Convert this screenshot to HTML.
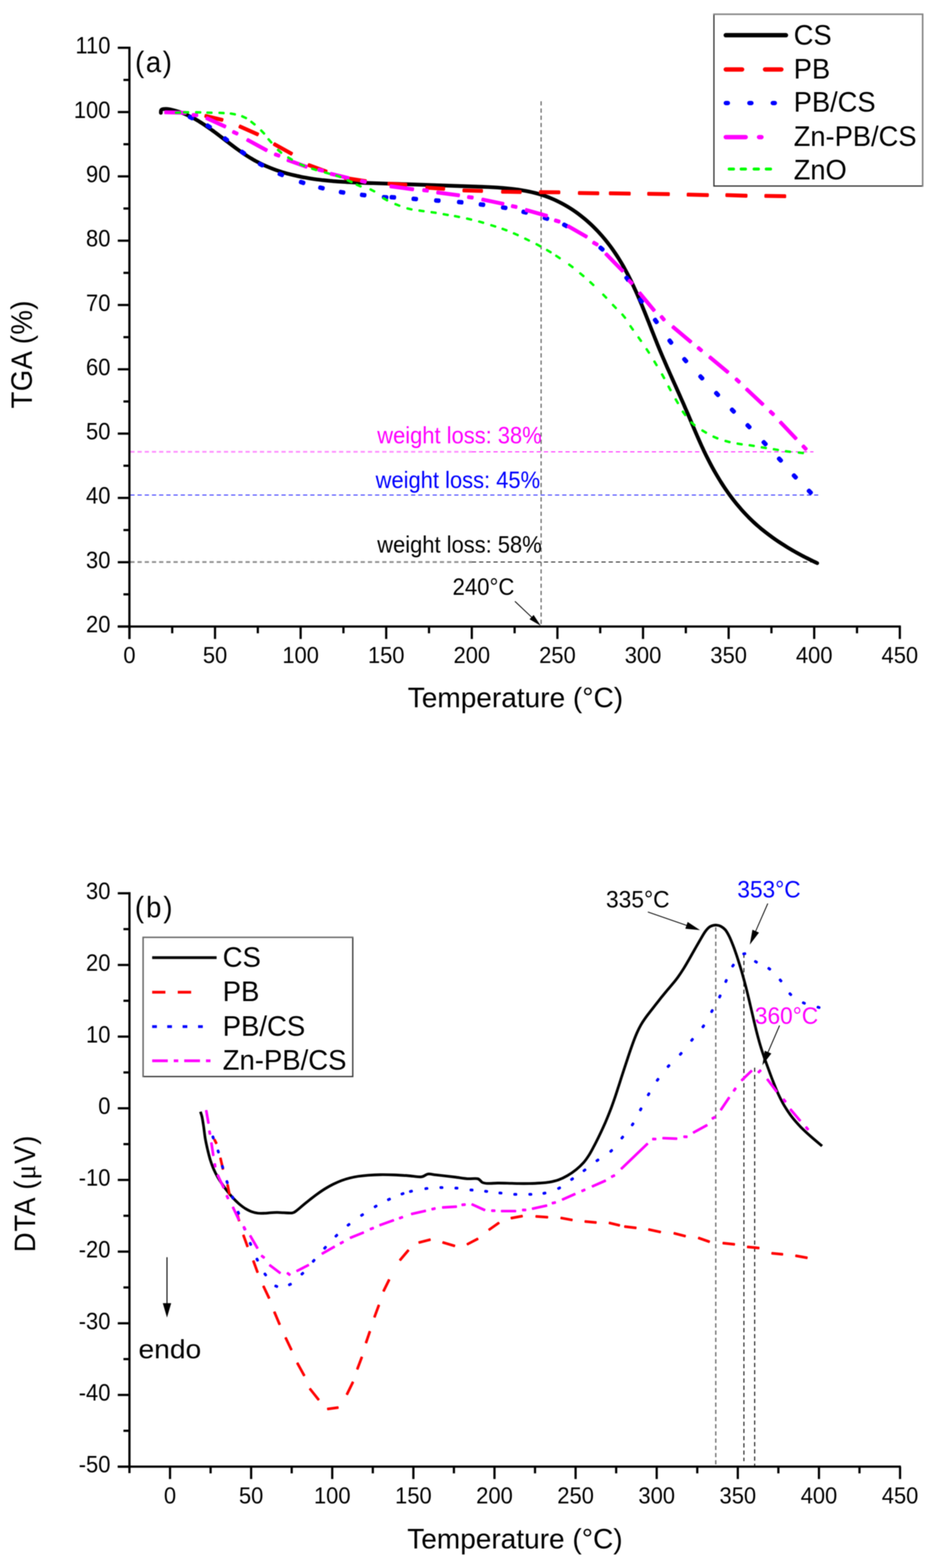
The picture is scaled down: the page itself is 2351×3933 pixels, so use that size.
<!DOCTYPE html>
<html lang="en">
<head>
<meta charset="utf-8">
<title>TGA and DTA curves</title>
<style>
html,body{margin:0;padding:0;background:#fff}
svg{display:block;font-family:"Liberation Sans", Arial, Helvetica, sans-serif;filter:blur(0.9px)}
</style>
</head>
<body>
<svg width="2351" height="3933" viewBox="0 0 2351 3933">
<rect width="2351" height="3933" fill="#fff"/>
<g id="chart-a">
<line x1="1357.7" y1="254" x2="1357.7" y2="1569" stroke="#666" stroke-width="3" stroke-dasharray="10.6 7.46"/>
<line x1="327" y1="1133.2" x2="1184" y2="1133.2" stroke="#ff90ff" stroke-width="4.6" stroke-dasharray="10.6 7.46"/>
<line x1="1184" y1="1133.2" x2="2041" y2="1133.2" stroke="#ff28ff" stroke-width="2.6" stroke-dasharray="10.6 7.46"/>
<line x1="327" y1="1241.7" x2="2053" y2="1241.7" stroke="#3838ff" stroke-width="2.6" stroke-dasharray="10.6 7.46"/>
<line x1="327" y1="1409.8" x2="1184" y2="1409.8" stroke="#909090" stroke-width="4.6" stroke-dasharray="10.6 7.46"/>
<line x1="1184" y1="1409.8" x2="2040" y2="1409.8" stroke="#2a2a2a" stroke-width="2.6" stroke-dasharray="10.6 7.46"/>
<path d="M403.6 283.1C403.7 282 403.2 278 404.3 276.4C405.3 274.8 407 274.2 409.6 273.7C412.3 273.2 416.3 273 420.4 273.4C424.6 273.9 430 275.1 434.7 276.3C439.3 277.4 443.9 278.8 448.5 280.3C453 281.8 457.5 283.4 461.9 285.2C466.3 287 470.7 289 475 291.1C479.3 293.2 483.6 295.4 487.8 297.7C492 300.1 496.2 302.5 500.3 305.1C504.5 307.6 508.6 310.2 512.7 313C516.8 315.7 520.8 318.5 524.8 321.3C528.9 324.1 532.9 327.1 536.9 330C540.9 332.9 544.8 335.9 548.8 338.9C552.8 341.9 556.7 345 560.7 348C564.6 351 568.6 354.1 572.6 357.1C576.5 360.1 580.5 363.2 584.5 366.1C588.5 369.1 592.4 372.1 596.5 375C600.5 377.9 604.5 380.7 608.6 383.5C612.6 386.3 616.7 389 620.8 391.6C624.9 394.2 629.1 396.8 633.3 399.2C637.4 401.7 641.7 404 645.9 406.2C650.2 408.5 654.5 410.6 658.8 412.7C663.2 414.7 667.5 416.6 672 418.5C676.4 420.4 680.8 422.1 685.3 423.8C689.7 425.5 694.2 427.1 698.8 428.6C703.3 430.1 707.9 431.6 712.4 432.9C717 434.3 721.6 435.6 726.3 436.8C730.9 438 735.6 439.1 740.3 440.2C744.9 441.3 749.7 442.3 754.4 443.3C759.1 444.2 763.9 445.1 768.6 445.9C773.4 446.8 778.2 447.5 783 448.3C787.8 449 792.6 449.7 797.4 450.3C802.2 450.9 807.1 451.5 811.9 452C816.8 452.6 821.7 453.1 826.5 453.5C831.4 454 836.3 454.4 841.2 454.8C846.1 455.2 851 455.5 855.9 455.8C860.8 456.2 865.7 456.4 870.6 456.7C875.5 457 880.5 457.2 885.4 457.5C890.3 457.7 895.2 457.9 900.1 458.1C905 458.3 910 458.5 914.9 458.7C919.8 458.8 924.7 459 929.6 459.2C934.5 459.3 939.4 459.5 944.3 459.6C949.2 459.8 954.1 459.9 958.9 460.1C963.8 460.3 968.7 460.4 973.6 460.6C978.4 460.7 983.3 460.9 988.1 461.1C993 461.2 997.8 461.4 1002.7 461.5C1007.5 461.7 1012.4 461.9 1017.2 462C1022.1 462.2 1026.9 462.3 1031.8 462.5C1036.6 462.7 1041.5 462.8 1046.3 463C1051.2 463.2 1056 463.3 1060.9 463.5C1065.7 463.7 1070.6 463.8 1075.4 464C1080.3 464.1 1085.1 464.3 1090 464.5C1094.9 464.6 1099.7 464.8 1104.6 465C1109.5 465.1 1114.4 465.3 1119.3 465.5C1124.2 465.6 1129.1 465.8 1134 466C1138.9 466.1 1143.9 466.3 1148.8 466.5C1153.7 466.6 1158.7 466.8 1163.6 467C1168.6 467.1 1173.6 467.3 1178.6 467.5C1183.6 467.6 1188.6 467.8 1193.6 468C1198.6 468.1 1203.6 468.3 1208.7 468.5C1213.7 468.7 1218.7 468.9 1223.8 469.1C1228.8 469.4 1233.8 469.6 1238.9 469.9C1243.9 470.2 1248.9 470.5 1253.9 470.9C1258.9 471.3 1263.9 471.7 1268.9 472.1C1273.9 472.6 1278.9 473.1 1283.8 473.6C1288.8 474.2 1293.7 474.8 1298.6 475.5C1303.5 476.2 1308.4 477 1313.2 477.9C1318.1 478.7 1322.9 479.6 1327.7 480.6C1332.4 481.6 1337.2 482.7 1341.9 483.9C1346.6 485.1 1351.2 486.4 1355.8 487.8C1360.4 489.2 1365 490.7 1369.5 492.3C1374 493.9 1378.4 495.6 1382.8 497.5C1387.2 499.3 1391.6 501.2 1395.9 503.2C1400.2 505.2 1404.4 507.4 1408.6 509.6C1412.8 511.8 1417 514.1 1421 516.5C1425.1 518.9 1429.2 521.4 1433.1 523.9C1437.1 526.5 1441 529.2 1444.9 531.9C1448.8 534.7 1452.6 537.5 1456.4 540.4C1460.1 543.3 1463.8 546.3 1467.5 549.4C1471.1 552.4 1474.7 555.6 1478.2 558.8C1481.8 562 1485.3 565.3 1488.7 568.6C1492.1 572 1495.5 575.4 1498.8 578.9C1502.1 582.4 1505.3 585.9 1508.5 589.5C1511.7 593.1 1514.8 596.8 1517.9 600.5C1521 604.3 1524 608 1526.9 611.9C1529.9 615.7 1532.8 619.6 1535.6 623.5C1538.4 627.5 1541.2 631.5 1543.9 635.5C1546.6 639.5 1549.3 643.6 1551.9 647.7C1554.5 651.8 1557 656 1559.5 660.2C1561.9 664.4 1564.4 668.6 1566.7 672.9C1569.1 677.2 1571.4 681.5 1573.7 685.8C1576 690.1 1578.2 694.5 1580.4 698.9C1582.6 703.3 1584.8 707.7 1586.9 712.2C1589 716.6 1591.1 721.1 1593.1 725.6C1595.2 730.1 1597.2 734.6 1599.2 739.1C1601.2 743.7 1603.2 748.2 1605.1 752.8C1607 757.4 1609 761.9 1610.9 766.5C1612.8 771.1 1614.6 775.7 1616.5 780.3C1618.4 784.9 1620.2 789.5 1622.1 794.2C1623.9 798.8 1625.7 803.4 1627.6 808C1629.4 812.6 1631.2 817.3 1633 821.9C1634.8 826.5 1636.6 831.1 1638.5 835.7C1640.3 840.3 1642.1 844.9 1643.9 849.5C1645.8 854.1 1647.6 858.7 1649.4 863.3C1651.3 867.8 1653.2 872.4 1655 876.9C1656.9 881.5 1658.8 886 1660.7 890.5C1662.6 895 1664.5 899.5 1666.5 903.9C1668.4 908.4 1670.3 912.9 1672.3 917.3C1674.2 921.8 1676.2 926.2 1678.2 930.7C1680.1 935.1 1682.1 939.5 1684.1 944C1686 948.4 1688 952.8 1690 957.2C1692 961.6 1694 966.1 1696 970.5C1697.9 974.9 1699.9 979.3 1701.9 983.7C1703.9 988.1 1705.9 992.5 1707.8 997C1709.8 1001.4 1711.7 1005.8 1713.7 1010.2C1715.7 1014.7 1717.6 1019.1 1719.5 1023.6C1721.5 1028 1723.4 1032.5 1725.3 1036.9C1727.2 1041.4 1729.1 1045.9 1731 1050.4C1732.9 1054.8 1734.8 1059.3 1736.7 1063.8C1738.6 1068.3 1740.5 1072.8 1742.4 1077.3C1744.3 1081.8 1746.2 1086.3 1748.2 1090.8C1750.1 1095.3 1752.1 1099.7 1754 1104.2C1756 1108.7 1758 1113.2 1760 1117.6C1762.1 1122.1 1764.1 1126.5 1766.2 1130.9C1768.3 1135.3 1770.4 1139.7 1772.6 1144.1C1774.8 1148.5 1777 1152.9 1779.2 1157.2C1781.5 1161.5 1783.8 1165.9 1786.1 1170.2C1788.4 1174.5 1790.8 1178.7 1793.2 1183C1795.6 1187.2 1798.1 1191.4 1800.6 1195.6C1803.1 1199.8 1805.6 1203.9 1808.2 1208.1C1810.8 1212.2 1813.4 1216.3 1816.1 1220.3C1818.8 1224.4 1821.5 1228.4 1824.3 1232.4C1827.1 1236.4 1830 1240.3 1832.8 1244.2C1835.7 1248.1 1838.7 1252 1841.7 1255.8C1844.7 1259.6 1847.7 1263.4 1850.8 1267.1C1853.9 1270.8 1857.1 1274.5 1860.3 1278.2C1863.5 1281.8 1866.8 1285.4 1870.1 1288.9C1873.4 1292.4 1876.8 1295.9 1880.2 1299.4C1883.7 1302.8 1887.2 1306.2 1890.7 1309.5C1894.3 1312.8 1897.9 1316.1 1901.6 1319.3C1905.3 1322.5 1909.1 1325.6 1912.8 1328.7C1916.6 1331.8 1920.5 1334.9 1924.4 1337.8C1928.3 1340.8 1932.2 1343.8 1936.2 1346.6C1940.2 1349.5 1944.2 1352.4 1948.3 1355.1C1952.3 1357.9 1956.5 1360.6 1960.6 1363.3C1964.7 1366 1968.9 1368.6 1973.1 1371.2C1977.3 1373.8 1981.5 1376.3 1985.7 1378.8C1990 1381.2 1994.2 1383.7 1998.5 1386.1C2002.8 1388.4 2007.1 1390.8 2011.4 1393.1C2015.7 1395.4 2020.1 1397.6 2024.4 1399.8C2028.7 1402 2033.1 1404.2 2037.4 1406.3C2041.7 1408.4 2048.2 1411.5 2050.4 1412.5" fill="none" stroke="#000" stroke-width="9.4" stroke-linecap="round" stroke-linejoin="round"/>
<path d="M515.5 292.6L557 302.5L557.9 298.8L516.4 288.9ZM601.2 318.9L645.6 338.7L647.2 335.2L602.8 315.4ZM687.6 363.3L730.4 387.1L732.2 383.8L689.5 360ZM774 415.9L817.6 431.8L818.9 428.2L775.3 412.4ZM865.4 448.3L917 456.2L917.5 452.4L866 444.5ZM975.2 462.5L1018.7 465.3L1018.9 461.5L975.4 458.7ZM1070.2 472.6L1113.7 475.4L1113.9 471.6L1070.4 468.8ZM1163.3 479.5L1208.8 480.7L1208.9 476.9L1163.4 475.7ZM1260.3 482.7L1305.8 483.5L1305.9 479.7L1260.4 478.9ZM1355.3 483.9L1402.9 484.3L1402.9 480.5L1355.4 480.1ZM1453 486L1500.5 486.8L1500.6 483L1453.1 482.2ZM1530.7 486.8L1579.4 487.6L1579.5 483.8L1530.7 483ZM1626.9 488L1677.6 488.8L1677.7 485L1626.9 484.2ZM1725.9 490.1L1775.5 491.2L1775.6 487.4L1726 486.3ZM1823 491.3L1872.5 492.9L1872.6 489.1L1823.1 487.5ZM1920.8 493.3L1969.6 494.1L1969.6 490.3L1920.9 489.5Z" fill="#f00" stroke="#f00" stroke-width="6" stroke-linejoin="round"/>
<path d="M475.1 294L482 297.5L483 295.3L476.2 291.9ZM519.6 315.9L526.2 320L527.4 317.9L520.9 313.9ZM563 347.9L569.1 352.6L570.6 350.7L564.5 346ZM605.8 381.6L612.1 386.1L613.5 384.1L607.2 379.6ZM651 411.9L657.7 415.7L658.9 413.6L652.2 409.8ZM700.7 437L707.7 440.1L708.7 437.9L701.6 434.8ZM754 457.6L761.3 460L762.1 457.7L754.8 455.3ZM802.5 471.6L810 473.5L810.6 471.1L803.1 469.3ZM854.3 482.8L861.9 484.1L862.3 481.8L854.7 480.5ZM907.3 489.9L915 490.8L915.2 488.4L907.6 487.5ZM962.3 495.7L970 496.3L970.2 493.9L962.5 493.3ZM981.8 495.9L989.5 496.4L989.6 494L981.9 493.5ZM1036.8 499.9L1044.5 500.5L1044.6 498.1L1036.9 497.5ZM1093.4 504L1101.1 504.5L1101.2 502.1L1093.6 501.6ZM1150.8 507.9L1158.4 508.6L1158.7 506.2L1151 505.6ZM1205.3 513.9L1213 514.8L1213.3 512.4L1205.6 511.5ZM1261.1 521.3L1268.7 522.7L1269.1 520.3L1261.5 519ZM1312.4 532.4L1319.9 534.3L1320.5 531.9L1313 530ZM1365.8 547.5L1373.1 549.9L1373.9 547.6L1366.5 545.2ZM1414.4 564.5L1421.1 568.2L1422.3 566.1L1415.5 562.4ZM1505.5 622L1511.3 627L1512.9 625.2L1507 620.2ZM1570.6 696.9L1575.2 703L1577.1 701.5L1572.5 695.4ZM1605.1 751.3L1609.4 757.6L1611.4 756.3L1607.1 749.9ZM1642.3 802.6L1646.8 808.9L1648.8 807.5L1644.3 801.2ZM1678.7 854.5L1683.3 860.6L1685.2 859.2L1680.6 853ZM1715.7 901.2L1720.8 907L1722.6 905.4L1717.5 899.6ZM1756.1 944.6L1761.3 950.2L1763.1 948.6L1757.8 943ZM1795.7 986.3L1801 991.8L1802.7 990.2L1797.4 984.6ZM1835.3 1027.9L1840.6 1033.5L1842.4 1031.8L1837 1026.3ZM1874.5 1067.2L1879.9 1072.7L1881.6 1071L1876.2 1065.5ZM1915 1109.6L1920.2 1115.2L1922 1113.5L1916.7 1107.9ZM1953.4 1150.7L1958.6 1156.4L1960.4 1154.8L1955.2 1149.1ZM1990.7 1193L1996 1198.7L1997.7 1197L1992.5 1191.4ZM2028.3 1231.5L2033.6 1237L2035.4 1235.3L2030 1229.8Z" fill="#00f" stroke="#00f" stroke-width="8.8" stroke-linejoin="round"/>
<path d="M415 283.6L465.4 284.9L465.5 281.1L415.1 279.8ZM518.2 298.2L563.6 318.9L565.2 315.4L519.8 294.8ZM620.4 352.7L667.4 378.3L669.2 374.9L622.3 349.4ZM721.8 403.5L768 420L769.3 416.4L723 399.9ZM829.9 437.9L873.3 448.3L874.2 444.6L830.8 434.2ZM980.1 469.3L1035.7 476.7L1036.2 472.9L980.6 465.5ZM1097.4 484.7L1150.9 491.7L1151.4 487.9L1097.9 480.9ZM1210.4 502.4L1262 513.1L1262.7 509.4L1211.2 498.7ZM1319.5 528.6L1371 543L1372 539.4L1320.5 524.9ZM1424.9 569.2L1470.2 595.2L1472.1 591.9L1426.8 565.9ZM1519.6 638.7L1560.7 680.7L1563.4 678L1522.3 636.1ZM1603.6 736.4L1639.4 779.6L1642.4 777.2L1606.5 734ZM1687.6 821.6L1731.6 858.6L1734.1 855.7L1690.1 818.7ZM1780.2 897.6L1824.6 934.6L1827.1 931.7L1782.6 894.7ZM1872.3 977.9L1912.3 1015.4L1914.9 1012.7L1874.9 975.2ZM1957.2 1060.7L1995.5 1101.1L1998.2 1098.5L1959.9 1058.1Z" fill="#f0f" stroke="#f0f" stroke-width="6" stroke-linejoin="round"/>
<path d="M484.7 289.7L493.6 289.9L493.6 287.5L484.7 287.3ZM585.7 332.4L593.8 336L594.8 333.9L586.7 330.2ZM690.8 388.5L699.2 391.5L700 389.3L691.6 386.3ZM799.9 427L808.6 429.1L809.1 426.8L800.5 424.7ZM907.1 455.3L915.7 457.4L916.3 455.1L907.6 453ZM1063.2 478.2L1072 479.3L1072.4 477L1063.5 475.8ZM1175.6 495.6L1184.4 496.7L1184.8 494.3L1175.9 493.2ZM1285.6 518.3L1294.3 520.1L1294.8 517.7L1286.1 515.9ZM1393.5 554.4L1402.1 556.8L1402.7 554.4L1394.2 552ZM1489.3 609.9L1497.1 614.3L1498.3 612.2L1490.5 607.8ZM1578 704.9L1584.2 711.3L1585.9 709.6L1579.7 703.3ZM1659 795.6L1664.7 802.4L1666.6 800.9L1660.9 794.1ZM1751.8 873.9L1758.6 879.6L1760.1 877.8L1753.3 872ZM1846.9 952.5L1853.4 958.6L1855 956.8L1848.5 950.7ZM1932.6 1033.8L1939.1 1039.9L1940.7 1038.1L1934.2 1032ZM2014.8 1120.5L2020.9 1126.9L2022.7 1125.3L2016.5 1118.8Z" fill="#f0f" stroke="#f0f" stroke-width="7.6" stroke-linejoin="round"/>
<path d="M441.1 283.4L452.3 283L452.3 281.7L441.1 282.1ZM461.3 282.5L472.5 282.3L472.5 281L461.3 281.2ZM491.6 282.3L502.8 282.5L502.9 281.2L491.7 281ZM519.9 283.1L531.1 283.4L531.2 282.1L520 281.8ZM550.3 283.7L561.4 284.3L561.5 283L550.3 282.4ZM578.6 285.4L589.6 287.5L589.8 286.2L578.8 284.1ZM607.1 292.2L617.3 296.8L617.8 295.6L607.7 291ZM629.9 305.9L638.7 312.8L639.5 311.8L630.8 304.8ZM654.6 327.5L662.4 335.6L663.3 334.7L655.6 326.6ZM673 349.5L680.4 358L681.4 357.1L674 348.7ZM696.8 376.4L705.2 383.8L706.1 382.8L697.7 375.4ZM722.6 395.4L732.2 401.3L732.8 400.1L723.3 394.3ZM752.7 412.3L762.9 416.8L763.4 415.7L753.2 411.1ZM782.8 423.8L793.5 427.2L793.9 426L783.2 422.5ZM815.1 433.3L825.9 436.3L826.3 435.1L815.5 432ZM843.5 441L854.1 444.8L854.5 443.5L844 439.8ZM871.9 452.7L882.1 457.3L882.7 456.1L872.5 451.5ZM894.6 463.9L904.9 468.2L905.4 467L895.1 462.7ZM929.1 475.6L939 480.7L939.6 479.6L929.7 474.4ZM961.5 497.6L971.2 503.2L971.9 502.1L962.2 496.4ZM991.6 512.5L1002 516.6L1002.5 515.4L992.1 511.3ZM1021.8 523.4L1032.6 526L1033 524.8L1022.1 522.1ZM1052 528.8L1063.1 530.4L1063.3 529.1L1052.2 527.5ZM1082.4 532.8L1093.4 534.5L1093.6 533.2L1082.6 531.5ZM1112.7 537.9L1123.7 539.8L1124 538.5L1112.9 536.6ZM1141 542.7L1152 544.8L1152.3 543.5L1141.3 541.4ZM1171.4 548.9L1182.3 551.5L1182.6 550.2L1171.7 547.6ZM1201.7 556.3L1212.5 559.4L1212.8 558.1L1202.1 555.1ZM1232.1 565.5L1242.7 568.8L1243.1 567.6L1232.5 564.2ZM1260.4 574.5L1270.9 578.4L1271.4 577.2L1260.9 573.3ZM1288.8 585.9L1299.1 590.4L1299.6 589.2L1289.4 584.7ZM1317.2 599L1327.3 603.9L1327.8 602.8L1317.8 597.9ZM1345.6 613L1355.4 618.3L1356.1 617.1L1346.2 611.8ZM1372 627.7L1381.6 633.4L1382.2 632.3L1372.6 626.6ZM1395 642L1404.3 648.3L1405 647.2L1395.7 641ZM1427.5 664L1436.5 670.7L1437.2 669.7L1428.2 663ZM1455.1 686L1463.7 693.2L1464.5 692.2L1456 685ZM1480.4 708L1488.5 715.6L1489.4 714.7L1481.3 707ZM1512.9 739.3L1520.7 747.3L1521.6 746.4L1513.8 738.4ZM1537.2 765.1L1544.9 773.2L1545.8 772.3L1538.1 764.2ZM1560.9 789L1568 797.8L1569 796.9L1561.9 788.2ZM1581.2 818.2L1587.6 827.4L1588.6 826.7L1582.2 817.5ZM1601.4 846.5L1607.8 855.7L1608.9 855L1602.4 845.8ZM1621.7 875.9L1627.9 885.3L1628.9 884.6L1622.8 875.2ZM1641.3 906.9L1647.1 916.5L1648.2 915.9L1642.4 906.3ZM1660.4 939.2L1665.9 949L1667.1 948.3L1661.6 938.5ZM1676.7 969.5L1682 979.3L1683.2 978.7L1677.8 968.9ZM1694.7 1001.9L1700.4 1011.6L1701.5 1010.9L1695.9 1001.2ZM1712.5 1032.6L1719 1041.7L1720.1 1040.9L1713.6 1031.8ZM1734 1059.7L1742.3 1067.3L1743.1 1066.3L1734.8 1058.8ZM1761.7 1080.1L1771.3 1085.9L1772 1084.8L1762.4 1079ZM1789.7 1095.8L1800 1100.2L1800.6 1099L1790.3 1094.6ZM1819.9 1106.7L1830.7 1109.6L1831.1 1108.3L1820.2 1105.4ZM1850.2 1113.3L1861.2 1115.1L1861.4 1113.8L1850.4 1112ZM1880.5 1117.4L1891.6 1119.1L1891.8 1117.8L1880.7 1116.1ZM1910.8 1122.6L1921.9 1124.4L1922.1 1123.1L1911 1121.3ZM1941.1 1127.5L1952.2 1129.2L1952.4 1128L1941.3 1126.2ZM1971.5 1132.5L1982.6 1133.9L1982.7 1132.6L1971.6 1131.2ZM2003.8 1135.9L2014.9 1137L2015.1 1135.7L2003.9 1134.6Z" fill="#0f0" stroke="#0f0" stroke-width="4.8" stroke-linejoin="round"/>
<line x1="324.7" y1="117" x2="324.7" y2="1602.7" stroke="#000" stroke-width="5.6"/>
<line x1="295.5" y1="1571.5" x2="2260.3" y2="1571.5" stroke="#000" stroke-width="5.6"/>
<line x1="295.5" y1="1571.5" x2="324.7" y2="1571.5" stroke="#000" stroke-width="5.6"/>
<text transform="translate(277 1586) scale(1.000 1.070)" font-size="55" text-anchor="end" fill="#000">20</text>
<line x1="309.7" y1="1490.8" x2="324.7" y2="1490.8" stroke="#000" stroke-width="5.6"/>
<line x1="295.5" y1="1410.2" x2="324.7" y2="1410.2" stroke="#000" stroke-width="5.6"/>
<text transform="translate(277 1424.7) scale(1.000 1.070)" font-size="55" text-anchor="end" fill="#000">30</text>
<line x1="309.7" y1="1329.5" x2="324.7" y2="1329.5" stroke="#000" stroke-width="5.6"/>
<line x1="295.5" y1="1248.9" x2="324.7" y2="1248.9" stroke="#000" stroke-width="5.6"/>
<text transform="translate(277 1263.4) scale(1.000 1.070)" font-size="55" text-anchor="end" fill="#000">40</text>
<line x1="309.7" y1="1168.2" x2="324.7" y2="1168.2" stroke="#000" stroke-width="5.6"/>
<line x1="295.5" y1="1087.6" x2="324.7" y2="1087.6" stroke="#000" stroke-width="5.6"/>
<text transform="translate(277 1102.1) scale(1.000 1.070)" font-size="55" text-anchor="end" fill="#000">50</text>
<line x1="309.7" y1="1007" x2="324.7" y2="1007" stroke="#000" stroke-width="5.6"/>
<line x1="295.5" y1="926.3" x2="324.7" y2="926.3" stroke="#000" stroke-width="5.6"/>
<text transform="translate(277 940.8) scale(1.000 1.070)" font-size="55" text-anchor="end" fill="#000">60</text>
<line x1="309.7" y1="845.7" x2="324.7" y2="845.7" stroke="#000" stroke-width="5.6"/>
<line x1="295.5" y1="765" x2="324.7" y2="765" stroke="#000" stroke-width="5.6"/>
<text transform="translate(277 779.5) scale(1.000 1.070)" font-size="55" text-anchor="end" fill="#000">70</text>
<line x1="309.7" y1="684.4" x2="324.7" y2="684.4" stroke="#000" stroke-width="5.6"/>
<line x1="295.5" y1="603.7" x2="324.7" y2="603.7" stroke="#000" stroke-width="5.6"/>
<text transform="translate(277 618.2) scale(1.000 1.070)" font-size="55" text-anchor="end" fill="#000">80</text>
<line x1="309.7" y1="523" x2="324.7" y2="523" stroke="#000" stroke-width="5.6"/>
<line x1="295.5" y1="442.4" x2="324.7" y2="442.4" stroke="#000" stroke-width="5.6"/>
<text transform="translate(277 456.9) scale(1.000 1.070)" font-size="55" text-anchor="end" fill="#000">90</text>
<line x1="309.7" y1="361.8" x2="324.7" y2="361.8" stroke="#000" stroke-width="5.6"/>
<line x1="295.5" y1="281.1" x2="324.7" y2="281.1" stroke="#000" stroke-width="5.6"/>
<text transform="translate(277 295.6) scale(1.000 1.070)" font-size="55" text-anchor="end" fill="#000">100</text>
<line x1="309.7" y1="200.5" x2="324.7" y2="200.5" stroke="#000" stroke-width="5.6"/>
<line x1="295.5" y1="119.8" x2="324.7" y2="119.8" stroke="#000" stroke-width="5.6"/>
<text transform="translate(277 134.3) scale(1.000 1.070)" font-size="55" text-anchor="end" fill="#000">110</text>
<line x1="324.7" y1="1571.5" x2="324.7" y2="1602.7" stroke="#000" stroke-width="5.6"/>
<text transform="translate(324.7 1663) scale(1.000 1.050)" font-size="55" text-anchor="middle" fill="#000">0</text>
<line x1="432.1" y1="1571.5" x2="432.1" y2="1588.5" stroke="#000" stroke-width="5.6"/>
<line x1="539.5" y1="1571.5" x2="539.5" y2="1602.7" stroke="#000" stroke-width="5.6"/>
<text transform="translate(539.5 1663) scale(1.000 1.050)" font-size="55" text-anchor="middle" fill="#000">50</text>
<line x1="646.9" y1="1571.5" x2="646.9" y2="1588.5" stroke="#000" stroke-width="5.6"/>
<line x1="754.3" y1="1571.5" x2="754.3" y2="1602.7" stroke="#000" stroke-width="5.6"/>
<text transform="translate(754.3 1663) scale(1.000 1.050)" font-size="55" text-anchor="middle" fill="#000">100</text>
<line x1="861.7" y1="1571.5" x2="861.7" y2="1588.5" stroke="#000" stroke-width="5.6"/>
<line x1="969" y1="1571.5" x2="969" y2="1602.7" stroke="#000" stroke-width="5.6"/>
<text transform="translate(969 1663) scale(1.000 1.050)" font-size="55" text-anchor="middle" fill="#000">150</text>
<line x1="1076.4" y1="1571.5" x2="1076.4" y2="1588.5" stroke="#000" stroke-width="5.6"/>
<line x1="1183.8" y1="1571.5" x2="1183.8" y2="1602.7" stroke="#000" stroke-width="5.6"/>
<text transform="translate(1183.8 1663) scale(1.000 1.050)" font-size="55" text-anchor="middle" fill="#000">200</text>
<line x1="1291.2" y1="1571.5" x2="1291.2" y2="1588.5" stroke="#000" stroke-width="5.6"/>
<line x1="1398.6" y1="1571.5" x2="1398.6" y2="1602.7" stroke="#000" stroke-width="5.6"/>
<text transform="translate(1398.6 1663) scale(1.000 1.050)" font-size="55" text-anchor="middle" fill="#000">250</text>
<line x1="1506" y1="1571.5" x2="1506" y2="1588.5" stroke="#000" stroke-width="5.6"/>
<line x1="1613.4" y1="1571.5" x2="1613.4" y2="1602.7" stroke="#000" stroke-width="5.6"/>
<text transform="translate(1613.4 1663) scale(1.000 1.050)" font-size="55" text-anchor="middle" fill="#000">300</text>
<line x1="1720.8" y1="1571.5" x2="1720.8" y2="1588.5" stroke="#000" stroke-width="5.6"/>
<line x1="1828.2" y1="1571.5" x2="1828.2" y2="1602.7" stroke="#000" stroke-width="5.6"/>
<text transform="translate(1828.2 1663) scale(1.000 1.050)" font-size="55" text-anchor="middle" fill="#000">350</text>
<line x1="1935.6" y1="1571.5" x2="1935.6" y2="1588.5" stroke="#000" stroke-width="5.6"/>
<line x1="2042.9" y1="1571.5" x2="2042.9" y2="1602.7" stroke="#000" stroke-width="5.6"/>
<text transform="translate(2042.9 1663) scale(1.000 1.050)" font-size="55" text-anchor="middle" fill="#000">400</text>
<line x1="2150.3" y1="1571.5" x2="2150.3" y2="1588.5" stroke="#000" stroke-width="5.6"/>
<line x1="2257.7" y1="1571.5" x2="2257.7" y2="1602.7" stroke="#000" stroke-width="5.6"/>
<text transform="translate(2257.7 1663) scale(1.000 1.050)" font-size="55" text-anchor="middle" fill="#000">450</text>
<text transform="translate(1023 1774) scale(1.020 1.030)" font-size="69" text-anchor="start" fill="#000">Temperature (°C)</text>
<text transform="translate(80 1024.5) rotate(-90) scale(1.000 1.070)" font-size="69" text-anchor="start" fill="#000" letter-spacing="1">TGA (%)</text>
<text transform="translate(339 181) scale(1.000 1.070)" font-size="69" text-anchor="start" fill="#000" letter-spacing="4">(a)</text>
<text transform="translate(946.5 1112) scale(1.000 1.070)" font-size="55" text-anchor="start" fill="#f0f">weight loss: 38%</text>
<text transform="translate(942.5 1224) scale(1.000 1.070)" font-size="55" text-anchor="start" fill="#00f">weight loss: 45%</text>
<text transform="translate(946.5 1385.8) scale(1.000 1.070)" font-size="55" text-anchor="start" fill="#000">weight loss: 58%</text>
<text transform="translate(1135.5 1492.2) scale(1.010 1.070)" font-size="55" text-anchor="start" fill="#000">240°C</text>
<line x1="1292" y1="1508.4" x2="1335.2" y2="1549.2" stroke="#000" stroke-width="2.2"/>
<polygon points="1357,1569.8 1328.6,1553.3 1338.9,1542.4" fill="#000"/>
<rect x="1791.3" y="35.6" width="523.7" height="431" fill="#fff" stroke="#333" stroke-width="3.2"/>
<path d="M1789.7 35.6H2315V468.2" fill="none" stroke="#858585" stroke-width="3.6"/>
<line x1="1821" y1="88.3" x2="1972" y2="88.3" stroke="#000" stroke-width="11" stroke-linecap="round"/>
<path d="M1821 174.2H1862M1919.5 174.2H1960.5" fill="none" stroke="#f00" stroke-width="11" stroke-linecap="round" stroke-linejoin="round"/>
<path d="M1821.2 258.4H1826.2M1880.3 258.4H1885.3M1939 258.4H1944" fill="none" stroke="#00f" stroke-width="11" stroke-linecap="round" stroke-linejoin="round"/>
<path d="M1821 343.9H1871M1904.5 343.9H1910.5" fill="none" stroke="#f0f" stroke-width="11" stroke-linecap="round" stroke-linejoin="round"/>
<path d="M1829.5 424H1840.5M1859.5 424H1870.5M1892 424H1903M1922.5 424H1933.5" fill="none" stroke="#0f0" stroke-width="7.4" stroke-linecap="round" stroke-linejoin="round"/>
<text transform="translate(1991.5 111.8) scale(0.992 1.030)" font-size="69" text-anchor="start" fill="#000">CS</text>
<text transform="translate(1991.5 197.2) scale(0.992 1.030)" font-size="69" text-anchor="start" fill="#000">PB</text>
<text transform="translate(1991.5 280.3) scale(0.992 1.030)" font-size="69" text-anchor="start" fill="#000">PB/CS</text>
<text transform="translate(1991.5 365.7) scale(0.992 1.030)" font-size="69" text-anchor="start" fill="#000">Zn-PB/CS</text>
<text transform="translate(1991.5 450.4) scale(0.992 1.030)" font-size="69" text-anchor="start" fill="#000">ZnO</text>
</g>
<g id="chart-b">
<line x1="1795.9" y1="2326" x2="1795.9" y2="3676" stroke="#6a6a6a" stroke-width="3.2" stroke-dasharray="10.6 7.46"/>
<line x1="1866.5" y1="2392" x2="1866.5" y2="3665" stroke="#262626" stroke-width="2.8" stroke-dasharray="10.6 7.46"/>
<line x1="1893.5" y1="2678" x2="1893.5" y2="3676" stroke="#262626" stroke-width="2.8" stroke-dasharray="10.6 7.46"/>
<path d="M502.9 2788.5C503.6 2790.8 505.6 2795.7 507 2802C508.3 2808.3 509.6 2817.3 511 2826.3C512.3 2835.2 513.4 2846.2 515 2855.9C516.7 2865.6 518.9 2875.2 521 2884.2C523.2 2893.2 525.3 2902.1 527.8 2910.1C530.4 2918.2 533 2925.6 536.1 2932.7C539.2 2939.8 542.6 2946.3 546.3 2952.8C550 2959.3 554.2 2965.5 558.4 2971.6C562.6 2977.8 567.2 2983.8 571.6 2989.5C576.1 2995.2 580.6 3000.6 585.3 3005.6C590 3010.6 594.7 3015.2 599.6 3019.5C604.6 3023.7 609.7 3027.7 614.9 3031C620.2 3034.2 625.6 3037.1 630.9 3039.1C636.3 3041.1 641.7 3042.3 647.1 3043C652.5 3043.7 657.9 3043.4 663.3 3043.2C668.7 3043 674.1 3042.2 679.5 3041.9C684.9 3041.5 690.2 3041.2 695.6 3041.2C701 3041.2 705.5 3041.7 711.8 3041.9C718.1 3042.1 728 3043.3 733.4 3042.4C738.8 3041.5 739.6 3039.7 744.2 3036.5C748.7 3033.2 754.9 3027.5 760.5 3022.9C766.1 3018.4 771.6 3013.7 777.5 3009.1C783.4 3004.5 789.4 2999.7 795.7 2995.2C802 2990.7 808.5 2986.1 815.2 2982C822 2977.9 829 2973.9 836 2970.4C843 2966.9 850.3 2963.7 857.2 2961.1C864.2 2958.5 870.9 2956.4 877.8 2954.7C884.8 2952.9 891.3 2951.7 899.1 2950.5C906.8 2949.4 914.9 2948.5 924.1 2947.8C933.3 2947.2 943.7 2946.7 954.5 2946.5C965.3 2946.4 977.3 2946.6 988.8 2947C1000.4 2947.4 1012.4 2948.2 1023.8 2949C1035.1 2949.8 1048.8 2952.6 1057.1 2951.9C1065.4 2951.2 1067.6 2945.6 1073.6 2944.8C1079.6 2944 1086.1 2946.2 1093 2946.9C1100 2947.7 1107 2948.4 1115.2 2949.3C1123.3 2950.3 1132.4 2951.3 1142 2952.5C1151.6 2953.7 1163.2 2955.9 1172.6 2956.6C1182.1 2957.3 1192.3 2955 1198.6 2956.6C1204.9 2958.2 1206.1 2964.1 1210.4 2966C1214.7 2968 1218.2 2968.2 1224.5 2968.4C1230.9 2968.6 1240.3 2967.6 1248.4 2967.5C1256.6 2967.4 1264.8 2967.6 1273.5 2967.8C1282.1 2968 1291.2 2968.5 1300.3 2968.6C1309.4 2968.8 1319 2968.8 1328 2968.6C1337.1 2968.4 1346.1 2968.1 1354.6 2967.5C1363.1 2966.9 1371 2966.4 1378.7 2965.1C1386.5 2963.7 1393.7 2962.2 1401.2 2959.5C1408.7 2956.8 1416.3 2953.2 1423.8 2948.8C1431.3 2944.4 1439.3 2938.8 1446.1 2933.3C1452.9 2927.8 1459.2 2921.7 1464.6 2915.7C1469.9 2909.6 1473.9 2903.6 1478.1 2897C1482.3 2890.4 1485.8 2883.5 1489.7 2876.2C1493.6 2868.9 1497.6 2860.9 1501.5 2853C1505.4 2845.1 1509.3 2836.9 1513 2828.7C1516.8 2820.5 1520.4 2812.1 1523.8 2803.7C1527.3 2795.4 1530.6 2786.9 1533.8 2778.5C1536.9 2770.1 1539.8 2761.7 1542.7 2753.4C1545.6 2745 1548.2 2736.7 1550.9 2728.3C1553.7 2719.9 1556.3 2711.4 1559 2703C1561.7 2694.6 1564.4 2686.3 1567.1 2678.1C1569.8 2669.8 1572.5 2661.7 1575.2 2653.6C1577.9 2645.6 1580.6 2637.4 1583.3 2629.7C1586 2622 1588.7 2614.3 1591.4 2607.3C1594.1 2600.3 1596.7 2593.8 1599.5 2587.8C1602.2 2581.7 1604.9 2576.4 1607.9 2571.1C1610.9 2565.8 1614 2561 1617.7 2555.8C1621.3 2550.5 1625.3 2545.4 1629.7 2539.6C1634.2 2533.9 1639.2 2527.5 1644.1 2521.2C1649 2514.9 1654.4 2508 1659.4 2501.7C1664.4 2495.5 1669.3 2489.6 1674 2483.9C1678.8 2478.2 1683.3 2473.3 1687.8 2467.7C1692.4 2462.1 1696.8 2456.7 1701.3 2450.4C1705.8 2444.2 1710.3 2437.5 1714.8 2430.3C1719.3 2423.2 1723.8 2415.3 1728.2 2407.6C1732.7 2399.8 1737.2 2391.6 1741.7 2383.7C1746.2 2375.9 1750.7 2368 1755.2 2360.3C1759.7 2352.6 1764.6 2343.5 1768.7 2337.7C1772.7 2332 1775.9 2328.4 1779.5 2325.6C1783.1 2322.8 1787.1 2321.9 1790.2 2321C1793.4 2320.2 1795.2 2320 1798.3 2320.5C1801.5 2320.9 1805.5 2321.7 1809.1 2323.7C1812.7 2325.7 1816.4 2328.1 1819.9 2332.3C1823.4 2336.6 1826.9 2343 1830 2349.2C1833.1 2355.4 1835.8 2362.4 1838.6 2369.6C1841.4 2376.7 1844.1 2384.2 1846.8 2392.1C1849.6 2400.1 1852.2 2408.4 1854.9 2417.1C1857.6 2425.8 1860.3 2434.7 1863 2444.2C1865.7 2453.7 1868.4 2463.6 1871.1 2474C1873.8 2484.5 1876.5 2495.6 1879.2 2506.9C1881.9 2518.2 1884.6 2530.2 1887.3 2541.7C1890 2553.3 1892.7 2565.2 1895.4 2576.1C1898.1 2587.1 1900.8 2597.7 1903.5 2607.4C1906.1 2617.2 1908.8 2626 1911.5 2634.6C1914.3 2643.1 1916.9 2650.5 1919.7 2658.6C1922.6 2666.7 1925.4 2674.3 1928.7 2683.2C1932 2692.1 1935.4 2701.8 1939.4 2711.8C1943.4 2721.8 1947.7 2732.9 1952.4 2743.3C1957.2 2753.6 1962.3 2764.1 1968.1 2773.8C1973.9 2783.5 1980.1 2792.8 1987 2801.7C1993.8 2810.5 2001.3 2818.8 2009.2 2827.1C2017.2 2835.3 2025.8 2843 2034.7 2850.9C2043.6 2858.9 2058.1 2870.6 2062.7 2874.5" fill="none" stroke="#000" stroke-width="6.8" stroke-linecap="butt" stroke-linejoin="round"/>
<path d="M536.9 2859.4L541.3 2868.4L544.1 2867L539.7 2858.1ZM551.7 2905.7L557.8 2932.6L560.8 2931.9L554.7 2905.1ZM569.5 2972.4L574 2995.2L577 2994.6L572.5 2971.8ZM593.1 3043.3L598.2 3062L601.2 3061.2L596 3042.4ZM609.4 3099.1L619.5 3126.9L622.4 3125.8L612.3 3098.1ZM634.5 3163.8L644.6 3191.5L647.5 3190.4L637.4 3162.7ZM659.8 3227.3L673.6 3256.4L676.4 3255.1L662.6 3226ZM687.2 3292L700 3322.2L702.8 3321L690.1 3290.8ZM715.6 3356.7L729.4 3385.8L732.2 3384.5L718.4 3355.4ZM744.9 3420.2L761.7 3450.6L764.4 3449.1L747.6 3418.7ZM776.8 3484.9L798 3511.6L800.4 3509.7L779.2 3483ZM822.5 3535.6L848.1 3532.1L847.7 3529L822.1 3532.5ZM872.1 3497.8L886.6 3467.9L883.9 3466.5L869.3 3496.4ZM898.2 3434.1L909.1 3405.1L906.2 3404.1L895.3 3433ZM920 3368.1L929.2 3340.9L926.3 3339.9L917 3367.1ZM941.2 3303.6L951.8 3274.9L948.9 3273.8L938.3 3302.5ZM964 3238.7L977.5 3211.3L974.7 3209.9L961.2 3237.3ZM1005.2 3161.4L1025.5 3137.3L1023.1 3135.3L1002.8 3159.4ZM1052.1 3118L1079.3 3110.9L1078.5 3107.9L1051.3 3115ZM1111.2 3118L1139.8 3126.5L1140.7 3123.5L1112.1 3115.1ZM1173.5 3122.2L1199.1 3108.8L1197.7 3106.1L1172.1 3119.5ZM1228.3 3085.6L1252.2 3068.8L1250.5 3066.3L1226.5 3083.1ZM1283.2 3056.9L1310.3 3051.9L1309.7 3048.8L1282.6 3053.8ZM1345.1 3052.6L1373.6 3054.7L1373.8 3051.6L1345.3 3049.5ZM1407.6 3056.6L1434.7 3061.6L1435.3 3058.5L1408.2 3053.5ZM1468.2 3065.4L1495.2 3067.9L1495.5 3064.8L1468.4 3062.3ZM1528.7 3068.9L1553.5 3075.1L1554.3 3072.1L1529.5 3065.9ZM1567.6 3078.2L1595.2 3081.5L1595.6 3078.4L1568 3075.1ZM1627.8 3085.4L1656.4 3091.7L1657.1 3088.7L1628.5 3082.4ZM1691.4 3094.9L1718.6 3102L1719.4 3099L1692.2 3091.9ZM1752.6 3106.8L1778.9 3116L1779.9 3113L1753.6 3103.8ZM1814.4 3119.7L1842.4 3122.6L1842.7 3119.5L1814.7 3116.6ZM1875.7 3129.1L1903.7 3132L1904 3128.9L1876 3126ZM1937 3145.1L1963.2 3147.6L1963.4 3144.5L1937.3 3142ZM1996.8 3151.4L2024.4 3156.4L2024.9 3153.3L1997.3 3148.3Z" fill="#f00" stroke="#f00" stroke-width="3.6" stroke-linejoin="round"/>
<path d="M533.5 2851.5L534.8 2855.1L535.8 2854.7L534.5 2851.1ZM546.5 2886.6L547.7 2890.2L548.6 2889.9L547.5 2886.3ZM557.5 2925.4L558.5 2929.1L559.5 2928.8L558.4 2925.1ZM568.7 2963.5L569.9 2967.1L570.9 2966.7L569.7 2963.1ZM582.8 3002.3L584.2 3005.9L585.1 3005.5L583.8 3002ZM597 3040.3L598.3 3043.9L599.3 3043.5L597.9 3040ZM612.3 3080L613.7 3083.5L614.6 3083.1L613.3 3079.6ZM627.3 3118.4L628.7 3121.9L629.6 3121.5L628.2 3118ZM644.1 3158.1L645.8 3161.5L646.7 3161.1L645 3157.6ZM664.1 3195.5L666.3 3198.6L667.1 3198L664.9 3194.9ZM691.2 3226L694.7 3227.5L695.1 3226.5L691.6 3225.1ZM726 3223.1L729.4 3221.5L729 3220.6L725.6 3222.2ZM757.6 3196.4L760.3 3193.8L759.6 3193.1L756.9 3195.7ZM786.1 3164.2L788.6 3161.3L787.8 3160.6L785.3 3163.5ZM814.7 3131.5L817.2 3128.6L816.5 3128L813.9 3130.8ZM842.9 3101.2L845.6 3098.6L844.9 3097.8L842.2 3100.5ZM873.4 3073.7L876.3 3071.4L875.7 3070.6L872.7 3073ZM907.2 3049.1L910.3 3047L909.8 3046.2L906.6 3048.3ZM941.1 3027.3L944.3 3025.4L943.8 3024.6L940.6 3026.5ZM974.4 3009.7L977.9 3008.1L977.5 3007.2L974 3008.8ZM1008.3 2995.5L1011.9 2994.2L1011.5 2993.2L1007.9 2994.5ZM1029.4 2989.1L1033.1 2988.3L1032.9 2987.3L1029.2 2988.1ZM1068 2981.9L1071.8 2981.4L1071.6 2980.4L1067.9 2980.9ZM1105.7 2979.3L1109.5 2979.2L1109.4 2978.2L1105.6 2978.3ZM1143.3 2980.5L1147.1 2980.8L1147.2 2979.8L1143.4 2979.5ZM1181.1 2985.2L1184.9 2985.6L1185 2984.6L1181.2 2984.2ZM1217.9 2988.5L1221.6 2988.9L1221.8 2987.9L1218 2987.5ZM1253.7 2992.8L1257.5 2993.1L1257.6 2992.2L1253.8 2991.8ZM1291 2996.2L1294.8 2996.3L1294.8 2995.3L1291 2995.2ZM1328.8 2996.3L1332.6 2996.2L1332.5 2995.2L1328.7 2995.3ZM1364.3 2993.8L1368 2993L1367.8 2992L1364.1 2992.8ZM1401.4 2981.5L1404.7 2979.8L1404.3 2978.9L1400.9 2980.6ZM1434.1 2959L1437.2 2956.9L1436.6 2956L1433.5 2958.2ZM1465.3 2936.9L1468.3 2934.6L1467.7 2933.8L1464.7 2936.1ZM1497.8 2911.9L1500.9 2909.7L1500.3 2908.9L1497.2 2911.1ZM1532.4 2888.4L1535.2 2885.9L1534.6 2885.1L1531.8 2887.7ZM1560.5 2855.1L1562.9 2852.1L1562.1 2851.5L1559.7 2854.5ZM1586.6 2822.1L1588.7 2819L1587.9 2818.4L1585.8 2821.6ZM1607.1 2784.5L1608.9 2781.1L1608 2780.6L1606.2 2784ZM1626.8 2746.7L1628.7 2743.4L1627.9 2742.9L1626 2746.2ZM1649.3 2710.3L1651.5 2707.2L1650.7 2706.7L1648.5 2709.8ZM1676.5 2675.8L1679 2673L1678.2 2672.3L1675.7 2675.1ZM1707.1 2645.1L1709.7 2642.3L1708.9 2641.6L1706.4 2644.5ZM1735.5 2610.1L1737.9 2607.1L1737.1 2606.5L1734.7 2609.5ZM1764 2576.2L1766.1 2573.1L1765.3 2572.5L1763.1 2575.6ZM1785.8 2538L1787.7 2534.7L1786.8 2534.2L1785 2537.6ZM1805.8 2501.3L1807.4 2497.8L1806.5 2497.4L1804.9 2500.8ZM1821.4 2462.6L1822.9 2459.1L1822 2458.7L1820.5 2462.2ZM1838.5 2423.8L1840.6 2420.7L1839.8 2420.1L1837.7 2423.3ZM1865.7 2393.1L1869.4 2392.5L1869.2 2391.5L1865.5 2392.1ZM1894.8 2412L1898.1 2414L1898.6 2413.1L1895.3 2411.1ZM1928.4 2429.3L1931.4 2431.5L1932 2430.7L1929 2428.5ZM1956.9 2458.1L1959.3 2461L1960.1 2460.4L1957.7 2457.5ZM1981.3 2492.7L1984 2495.4L1984.7 2494.6L1982 2492ZM2015 2515.5L2018.5 2517.1L2018.9 2516.2L2015.5 2514.6ZM2051.8 2526.6L2055.5 2527.7L2055.7 2526.8L2052.1 2525.7Z" fill="#00f" stroke="#00f" stroke-width="6" stroke-linejoin="round"/>
<path d="M516 2786.4L521.5 2817.2L524.5 2816.7L519.1 2785.9ZM528.9 2867.2L533.6 2898.1L536.7 2897.6L532 2866.8ZM544.9 2948.4L559.6 2979.5L562.4 2978.2L547.7 2947.1ZM583.3 3029.2L598 3060.4L600.8 3059L586.1 3027.9ZM626.8 3100.9L644.4 3131.3L647.1 3129.7L629.5 3099.3ZM676.2 3174.8L701.7 3194.1L703.5 3191.6L678.1 3172.4ZM746 3189.2L774.3 3174.7L772.9 3172L744.6 3186.5ZM809.4 3145.7L839.3 3128.7L837.8 3126L807.9 3143ZM880.1 3106L912.1 3093.1L911 3090.3L878.9 3103.1ZM954.1 3074.4L987.5 3062.4L986.5 3059.5L953.1 3071.5ZM1033.2 3046.4L1067.5 3038.7L1066.8 3035.7L1032.5 3043.4ZM1110.9 3030.2L1145 3028.1L1144.8 3025L1110.7 3027.1ZM1184 3022.4L1215.2 3036.5L1216.5 3033.7L1185.3 3019.6ZM1258.4 3039.3L1293.5 3039.3L1293.5 3036.2L1258.4 3036.2ZM1336.5 3033.2L1371.7 3025.5L1371 3022.5L1335.9 3030.2ZM1412.2 3010.1L1442.9 2996.5L1441.6 2993.7L1410.9 3007.3ZM1487.2 2977.1L1519.3 2963L1518 2960.2L1485.9 2974.3ZM1560.4 2932.4L1625.2 2870.3L1623.1 2868.1L1558.2 2930.2ZM1663.5 2856.3L1697.7 2857.6L1697.8 2854.5L1663.6 2853.2ZM1741 2842L1774.2 2823.9L1772.7 2821.2L1739.5 2839.3ZM1810.3 2784.3L1830.5 2754.2L1827.9 2752.5L1807.7 2782.5ZM1862.3 2710.7L1886.6 2687.3L1884.4 2685L1860.1 2708.5ZM1924.4 2708.5L1947.2 2738.7L1949.7 2736.8L1926.9 2706.6ZM1982.5 2784L2006.1 2811.9L2008.5 2809.9L1984.9 2782Z" fill="#f0f" stroke="#f0f" stroke-width="3.6" stroke-linejoin="round"/>
<path d="M524.3 2837.9L525.5 2844.4L528 2844L526.8 2837.5ZM537.8 2920L538.8 2926.5L541.2 2926.1L540.2 2919.6ZM568.1 3000.2L570.9 3006.2L573.2 3005.2L570.3 2999.2ZM610.7 3078.5L614 3084.2L616.2 3083L612.9 3077.2ZM656.2 3151.3L661.4 3155.3L663 3153.3L657.7 3149.3ZM720.9 3194.6L726.1 3198.5L727.6 3196.6L722.4 3192.6ZM855.3 3119.7L861 3116.4L859.8 3114.3L854.1 3117.5ZM930.3 3083.9L936.5 3081.7L935.7 3079.3L929.5 3081.5ZM1003.4 3056.5L1009.7 3054.3L1008.8 3052L1002.6 3054.2ZM1084.8 3034L1091.2 3032.6L1090.7 3030.1L1084.2 3031.6ZM1160 3023.2L1166.6 3022.7L1166.4 3020.2L1159.8 3020.7ZM1234.4 3038L1241 3038L1241 3035.5L1234.4 3035.5ZM1311.8 3036.2L1318.4 3036.2L1318.4 3033.7L1311.8 3033.7ZM1386.7 3018.9L1393.1 3017.5L1392.6 3015.1L1386.1 3016.5ZM1461.2 2988.3L1467.2 2985.7L1466.2 2983.4L1460.2 2986ZM1535.7 2952.5L1541.7 2949.8L1540.7 2947.5L1534.7 2950.2ZM1638.2 2858.2L1644.8 2858.4L1644.9 2856L1638.3 2855.7ZM1716.5 2852.5L1723.1 2852.8L1723.2 2850.3L1716.6 2850ZM1788.3 2806.5L1794.1 2803.3L1792.9 2801.1L1787.1 2804.3ZM1842.6 2736.5L1846.3 2731L1844.2 2729.6L1840.5 2735.1ZM1904.2 2690.5L1908.9 2685.9L1907.2 2684.1L1902.4 2688.7ZM1965.3 2758.7L1969.6 2763.7L1971.5 2762.1L1967.2 2757.1ZM2021.9 2828.5L2026.2 2833.5L2028.1 2831.9L2023.8 2826.9Z" fill="#f0f" stroke="#f0f" stroke-width="4.4" stroke-linejoin="round"/>
<line x1="324.8" y1="2237.8" x2="324.8" y2="3695" stroke="#000" stroke-width="5.6"/>
<line x1="295.5" y1="3678.7" x2="2260.3" y2="3678.7" stroke="#000" stroke-width="5.6"/>
<line x1="295.5" y1="3678.7" x2="324.7" y2="3678.7" stroke="#000" stroke-width="5.6"/>
<text transform="translate(277 3693.2) scale(1.000 1.070)" font-size="55" text-anchor="end" fill="#000">-50</text>
<line x1="309.7" y1="3588.8" x2="324.7" y2="3588.8" stroke="#000" stroke-width="5.6"/>
<line x1="295.5" y1="3498.9" x2="324.7" y2="3498.9" stroke="#000" stroke-width="5.6"/>
<text transform="translate(277 3513.4) scale(1.000 1.070)" font-size="55" text-anchor="end" fill="#000">-40</text>
<line x1="309.7" y1="3409" x2="324.7" y2="3409" stroke="#000" stroke-width="5.6"/>
<line x1="295.5" y1="3319.2" x2="324.7" y2="3319.2" stroke="#000" stroke-width="5.6"/>
<text transform="translate(277 3333.7) scale(1.000 1.070)" font-size="55" text-anchor="end" fill="#000">-30</text>
<line x1="309.7" y1="3229.3" x2="324.7" y2="3229.3" stroke="#000" stroke-width="5.6"/>
<line x1="295.5" y1="3139.4" x2="324.7" y2="3139.4" stroke="#000" stroke-width="5.6"/>
<text transform="translate(277 3153.9) scale(1.000 1.070)" font-size="55" text-anchor="end" fill="#000">-20</text>
<line x1="309.7" y1="3049.5" x2="324.7" y2="3049.5" stroke="#000" stroke-width="5.6"/>
<line x1="295.5" y1="2959.6" x2="324.7" y2="2959.6" stroke="#000" stroke-width="5.6"/>
<text transform="translate(277 2974.1) scale(1.000 1.070)" font-size="55" text-anchor="end" fill="#000">-10</text>
<line x1="309.7" y1="2869.8" x2="324.7" y2="2869.8" stroke="#000" stroke-width="5.6"/>
<line x1="295.5" y1="2779.9" x2="324.7" y2="2779.9" stroke="#000" stroke-width="5.6"/>
<text transform="translate(277 2794.4) scale(1.000 1.070)" font-size="55" text-anchor="end" fill="#000">0</text>
<line x1="309.7" y1="2690" x2="324.7" y2="2690" stroke="#000" stroke-width="5.6"/>
<line x1="295.5" y1="2600.1" x2="324.7" y2="2600.1" stroke="#000" stroke-width="5.6"/>
<text transform="translate(277 2614.6) scale(1.000 1.070)" font-size="55" text-anchor="end" fill="#000">10</text>
<line x1="309.7" y1="2510.2" x2="324.7" y2="2510.2" stroke="#000" stroke-width="5.6"/>
<line x1="295.5" y1="2420.4" x2="324.7" y2="2420.4" stroke="#000" stroke-width="5.6"/>
<text transform="translate(277 2434.9) scale(1.000 1.070)" font-size="55" text-anchor="end" fill="#000">20</text>
<line x1="309.7" y1="2330.5" x2="324.7" y2="2330.5" stroke="#000" stroke-width="5.6"/>
<line x1="295.5" y1="2240.6" x2="324.7" y2="2240.6" stroke="#000" stroke-width="5.6"/>
<text transform="translate(277 2255.1) scale(1.000 1.070)" font-size="55" text-anchor="end" fill="#000">30</text>
<line x1="426.6" y1="3678.7" x2="426.6" y2="3709.8" stroke="#000" stroke-width="5.6"/>
<text transform="translate(426.6 3771.3) scale(1.000 1.050)" font-size="55" text-anchor="middle" fill="#000">0</text>
<line x1="528.4" y1="3678.7" x2="528.4" y2="3695.6" stroke="#000" stroke-width="5.6"/>
<line x1="630.1" y1="3678.7" x2="630.1" y2="3709.8" stroke="#000" stroke-width="5.6"/>
<text transform="translate(630.1 3771.3) scale(1.000 1.050)" font-size="55" text-anchor="middle" fill="#000">50</text>
<line x1="731.9" y1="3678.7" x2="731.9" y2="3695.6" stroke="#000" stroke-width="5.6"/>
<line x1="833.6" y1="3678.7" x2="833.6" y2="3709.8" stroke="#000" stroke-width="5.6"/>
<text transform="translate(833.6 3771.3) scale(1.000 1.050)" font-size="55" text-anchor="middle" fill="#000">100</text>
<line x1="935.4" y1="3678.7" x2="935.4" y2="3695.6" stroke="#000" stroke-width="5.6"/>
<line x1="1037.2" y1="3678.7" x2="1037.2" y2="3709.8" stroke="#000" stroke-width="5.6"/>
<text transform="translate(1037.2 3771.3) scale(1.000 1.050)" font-size="55" text-anchor="middle" fill="#000">150</text>
<line x1="1138.9" y1="3678.7" x2="1138.9" y2="3695.6" stroke="#000" stroke-width="5.6"/>
<line x1="1240.7" y1="3678.7" x2="1240.7" y2="3709.8" stroke="#000" stroke-width="5.6"/>
<text transform="translate(1240.7 3771.3) scale(1.000 1.050)" font-size="55" text-anchor="middle" fill="#000">200</text>
<line x1="1342.4" y1="3678.7" x2="1342.4" y2="3695.6" stroke="#000" stroke-width="5.6"/>
<line x1="1444.2" y1="3678.7" x2="1444.2" y2="3709.8" stroke="#000" stroke-width="5.6"/>
<text transform="translate(1444.2 3771.3) scale(1.000 1.050)" font-size="55" text-anchor="middle" fill="#000">250</text>
<line x1="1546" y1="3678.7" x2="1546" y2="3695.6" stroke="#000" stroke-width="5.6"/>
<line x1="1647.7" y1="3678.7" x2="1647.7" y2="3709.8" stroke="#000" stroke-width="5.6"/>
<text transform="translate(1647.7 3771.3) scale(1.000 1.050)" font-size="55" text-anchor="middle" fill="#000">300</text>
<line x1="1749.5" y1="3678.7" x2="1749.5" y2="3695.6" stroke="#000" stroke-width="5.6"/>
<line x1="1851.2" y1="3678.7" x2="1851.2" y2="3709.8" stroke="#000" stroke-width="5.6"/>
<text transform="translate(1851.2 3771.3) scale(1.000 1.050)" font-size="55" text-anchor="middle" fill="#000">350</text>
<line x1="1953" y1="3678.7" x2="1953" y2="3695.6" stroke="#000" stroke-width="5.6"/>
<line x1="2054.8" y1="3678.7" x2="2054.8" y2="3709.8" stroke="#000" stroke-width="5.6"/>
<text transform="translate(2054.8 3771.3) scale(1.000 1.050)" font-size="55" text-anchor="middle" fill="#000">400</text>
<line x1="2156.5" y1="3678.7" x2="2156.5" y2="3695.6" stroke="#000" stroke-width="5.6"/>
<line x1="2258.3" y1="3678.7" x2="2258.3" y2="3709.8" stroke="#000" stroke-width="5.6"/>
<text transform="translate(2258.3 3771.3) scale(1.000 1.050)" font-size="55" text-anchor="middle" fill="#000">450</text>
<text transform="translate(1021.7 3884.4) scale(1.020 1.030)" font-size="69" text-anchor="start" fill="#000">Temperature (°C)</text>
<text transform="translate(87.6 3141) rotate(-90) scale(1.000 1.070)" font-size="69" text-anchor="start" fill="#000" letter-spacing="2.2">DTA (<tspan font-family="&quot;Liberation Serif&quot;, serif">μ</tspan>V)</text>
<text transform="translate(338.5 2301.3) scale(1.000 1.070)" font-size="69" text-anchor="start" fill="#000" letter-spacing="5">(b)</text>
<text transform="translate(1520.5 2275.8) scale(1.040 1.070)" font-size="55" text-anchor="start" fill="#000">335°C</text>
<text transform="translate(1850 2250.8) scale(1.035 1.070)" font-size="55" text-anchor="start" fill="#00f">353°C</text>
<text transform="translate(1894 2568.2) scale(1.035 1.070)" font-size="55" text-anchor="start" fill="#f0f">360°C</text>
<line x1="1625.5" y1="2287.5" x2="1724.4" y2="2321.8" stroke="#000" stroke-width="2.2"/>
<polygon points="1756.5,2332.9 1719.5,2329.6 1725.4,2312.6" fill="#000"/>
<line x1="1926.4" y1="2266.3" x2="1895.3" y2="2337.4" stroke="#000" stroke-width="2.2"/>
<polygon points="1881.3,2369.5 1887.9,2332 1904.4,2339.2" fill="#000"/>
<line x1="1956" y1="2572.2" x2="1926.4" y2="2640.8" stroke="#000" stroke-width="2.2"/>
<polygon points="1912.9,2672 1918.9,2635.4 1935.4,2642.5" fill="#000"/>
<line x1="419" y1="3153.5" x2="419" y2="3270.7" stroke="#000" stroke-width="2.6"/>
<polygon points="419,3304.7 408.5,3268.7 429.5,3268.7" fill="#000"/>
<text transform="translate(347.5 3407) scale(1.025 0.970)" font-size="69" text-anchor="start" fill="#000">endo</text>
<rect x="359.1" y="2351.3" width="526" height="349" fill="#fff" stroke="#333" stroke-width="3.2"/>
<path d="M359.1 2701.9V2351.3H886.7" fill="none" stroke="#6e6e6e" stroke-width="3.4"/>
<line x1="381.8" y1="2402" x2="543.5" y2="2402" stroke="#000" stroke-width="7"/>
<path d="M381.8 2488.8H415M446 2488.8H479.6" fill="none" stroke="#f00" stroke-width="7" stroke-linecap="butt" stroke-linejoin="round"/>
<path d="M381.8 2575H393.6M419.6 2575H431.4M458.2 2575H470M497 2575H508.8" fill="none" stroke="#00f" stroke-width="7" stroke-linecap="butt" stroke-linejoin="round"/>
<path d="M381.8 2660.7H421M436 2660.7H447.3M462.2 2660.7H501.8M516.8 2660.7H528.1" fill="none" stroke="#f0f" stroke-width="7" stroke-linecap="butt" stroke-linejoin="round"/>
<text transform="translate(558.8 2425.3) scale(1.000 1.030)" font-size="69" text-anchor="start" fill="#000">CS</text>
<text transform="translate(558.8 2511) scale(1.000 1.030)" font-size="69" text-anchor="start" fill="#000">PB</text>
<text transform="translate(558.8 2598) scale(1.000 1.030)" font-size="69" text-anchor="start" fill="#000">PB/CS</text>
<text transform="translate(558.8 2683.3) scale(1.000 1.030)" font-size="69" text-anchor="start" fill="#000">Zn-PB/CS</text>
</g>
</svg>
</body>
</html>
